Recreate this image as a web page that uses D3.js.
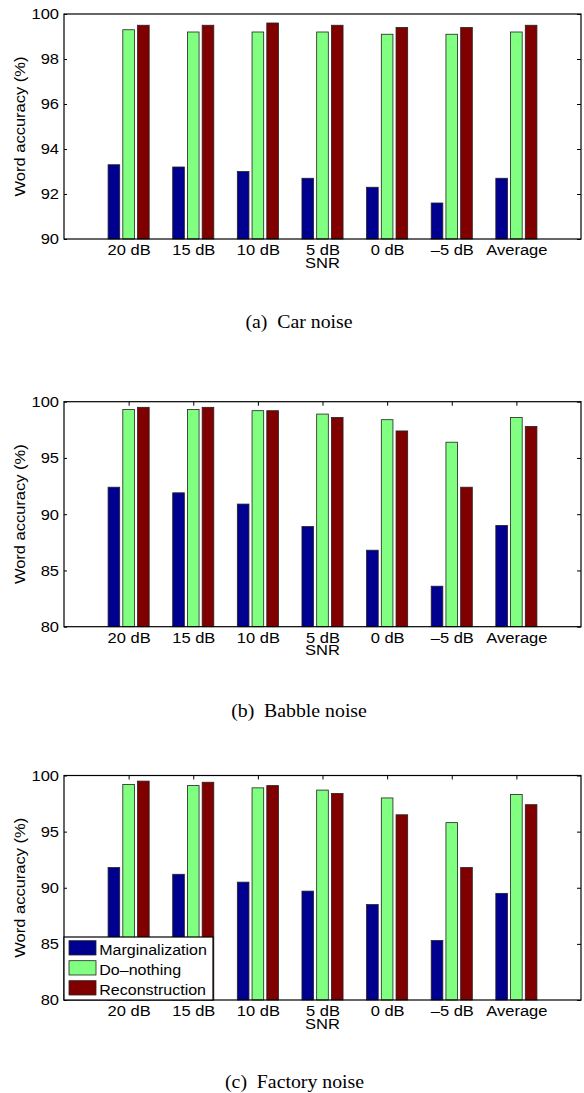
<!DOCTYPE html>
<html>
<head>
<meta charset="utf-8">
<script src="https://cdn.jsdelivr.net/npm/d3@7"></script>
<style>
  body { margin: 0; background: #fff; }
  text { font-family: "Liberation Sans", Arial, sans-serif; }
</style>
</head>
<body>
<div id="chart-area"></div>
<script>
// categories and series
var categories = ["20 dB", "15 dB", "10 dB", "5 dB", "0 dB", "\u20135 dB", "Average"];
var seriesNames = ["Marginalization", "Do\u2013nothing", "Reconstruction"];
var colors = ["#000090", "#80ff80", "#800000"];

// (a) car noise
var carMarg = [93.3, 93.2, 93.0, 92.7, 92.3, 91.6, 92.7];
var carDo   = [99.3, 99.2, 99.2, 99.2, 99.1, 99.1, 99.2];
var carRec  = [99.5, 99.5, 99.6, 99.5, 99.4, 99.4, 99.5];
// (b) babble noise
var babbleMarg = [92.4, 91.9, 90.9, 88.9, 86.8, 83.6, 89.0];
var babbleDo   = [99.3, 99.3, 99.2, 98.9, 98.4, 96.4, 98.6];
var babbleRec  = [99.5, 99.5, 99.2, 98.6, 97.4, 92.4, 97.8];
// (c) factory noise
var factoryMarg = [91.8, 91.2, 90.5, 89.7, 88.5, 85.3, 89.5];
var factoryDo   = [99.2, 99.1, 98.9, 98.7, 98.0, 95.8, 98.3];
var factoryRec  = [99.5, 99.4, 99.1, 98.4, 96.5, 91.8, 97.4];

var ticksCar = [90, 92, 94, 96, 98, 100];
var ticksOther = [80, 85, 90, 95, 100];

var W = 584, H = 1093;
var left = 64, right = 581;
var sx = 1.1; // glyphs in the reference are a bit wider than Arial
var fs = "15px";

var svg = d3.select("#chart-area").append("svg")
    .attr("width", W)
    .attr("height", H);

var x = d3.scaleLinear().domain([0, 8]).range([left, right]);
var offsets = [-0.228, 0, 0.228];
var barW = 0.18;

function drawChart(top, bottom, yDomain, yTicks, series, topTicks, legend) {
    var g = svg.append("g");
    var y = d3.scaleLinear().domain(yDomain).range([bottom, top]);
    var idx = d3.range(1, categories.length + 1);

    // left axis
    var ax = g.append("g")
        .attr("transform", "translate(" + left + ",0)")
        .call(d3.axisLeft(y).tickValues(yTicks).tickSize(-3).tickFormat(d3.format("d")));
    ax.selectAll("text")
        .attr("x", -5 / sx)
        .attr("transform", "scale(" + sx + ",1)")
        .style("font-size", fs)
        .attr("fill", "#000");

    // right axis (ticks only)
    g.append("g")
        .attr("transform", "translate(" + right + ",0)")
        .call(d3.axisRight(y).tickValues(yTicks).tickSize(-4).tickFormat(""));

    // bottom axis
    var bx = g.append("g")
        .attr("transform", "translate(0," + bottom + ")")
        .call(d3.axisBottom(x).tickValues(idx).tickSize(-4)
            .tickFormat(function(d) { return categories[d - 1]; }));
    bx.selectAll("text")
        .attr("y", 16.5)
        .attr("dy", 0)
        .attr("transform", "scale(" + sx + ",1)")
        .style("font-size", fs)
        .attr("fill", "#000");

    if (topTicks) {
        g.append("g")
            .attr("transform", "translate(0," + top + ")")
            .call(d3.axisTop(x).tickValues(idx).tickSize(-4).tickFormat(""));
    }
    g.selectAll(".domain").remove();
    g.selectAll(".tick line").attr("stroke", "#000");

    // bars
    series.forEach(function(vals, s) {
        g.append("g").selectAll("rect")
            .data(vals)
            .enter().append("rect")
            .attr("x", function(d, i) { return x(i + 1 + offsets[s] - barW / 2); })
            .attr("width", x(barW) - x(0))
            .attr("y", function(d) { return y(d); })
            .attr("height", function(d) { return bottom - y(d); })
            .attr("fill", colors[s])
            .attr("stroke", "#222")
            .attr("stroke-width", 0.8);
    });

    // box
    g.append("rect")
        .attr("x", left).attr("y", top)
        .attr("width", right - left).attr("height", bottom - top)
        .attr("fill", "none")
        .attr("stroke", "#000")
        .attr("stroke-width", 1.2);

    // x label
    g.append("text")
        .attr("transform", "translate(" + ((left + right) / 2) + "," + (bottom + 28.5) + ") scale(" + sx + ",1)")
        .attr("text-anchor", "middle")
        .style("font-size", fs)
        .text("SNR");

    // y label
    g.append("text")
        .attr("transform", "translate(24.5," + ((top + bottom) / 2) + ") rotate(-90) scale(" + sx + ",1)")
        .attr("text-anchor", "middle")
        .style("font-size", fs)
        .text("Word accuracy (%)");

    if (legend) {
        var lg = g.append("g");
        lg.append("rect")
            .attr("x", left).attr("y", bottom - 63)
            .attr("width", 149).attr("height", 63)
            .attr("fill", "#fff")
            .attr("stroke", "#000")
            .attr("stroke-width", 1.2);
        seriesNames.forEach(function(name, s) {
            var ry = bottom - 59.3 + s * 20;
            lg.append("rect")
                .attr("x", left + 5).attr("y", ry)
                .attr("width", 27).attr("height", 14.3)
                .attr("fill", colors[s])
                .attr("stroke", "#222")
                .attr("stroke-width", 0.8);
            lg.append("text")
                .attr("transform", "translate(" + (left + 35.3) + "," + (ry + 14) + ") scale(" + (sx * 0.97) + ",1)")
                .style("font-size", fs)
                .text(name);
        });
    }
}

function caption(cx, cy, label) {
    svg.append("text")
        .attr("transform", "translate(" + cx + "," + cy + ") scale(1.1,1)")
        .attr("text-anchor", "middle")
        .style("font-family", "'Liberation Serif', 'Times New Roman', serif")
        .style("font-size", "18px")
        .style("white-space", "pre")
        .text(label);
}

drawChart(14, 239, [90, 100], ticksCar, [carMarg, carDo, carRec], false, false);
caption(299, 327.7, "(a)  Car noise");

drawChart(401.7, 626.7, [80, 100], ticksOther, [babbleMarg, babbleDo, babbleRec], true, false);
caption(299, 716.5, "(b)  Babble noise");

drawChart(775.5, 1000, [80, 100], ticksOther, [factoryMarg, factoryDo, factoryRec], true, true);
caption(294.5, 1088, "(c)  Factory noise");
</script>
</body>
</html>
